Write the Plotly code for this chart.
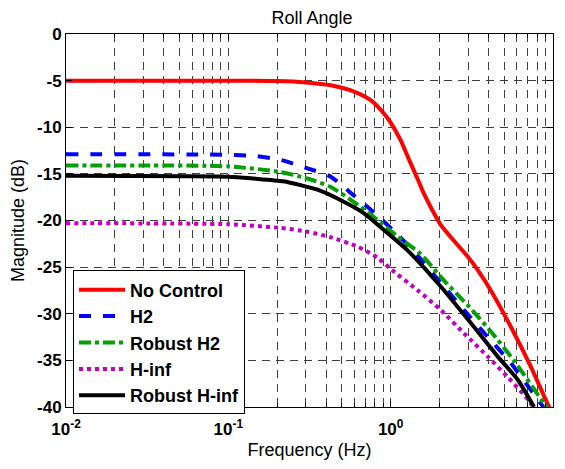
import plotly.graph_objects as go

# ---- data ----
f_nc = [0.01, 0.1, 0.2, 0.3, 0.427, 0.6, 0.753, 0.906, 1.0, 1.153, 1.3, 1.47, 1.6, 1.77, 2.04, 2.35, 2.99, 3.5, 4.14, 5.5, 7.31, 9.45, 10.0]
m_nc = [-5.0, -5.0, -5.05, -5.2, -5.5, -6.2, -7.1, -8.5, -9.5, -11.4, -13.5, -15.6, -17.1, -18.6, -20.5, -21.8, -23.9, -25.5, -27.5, -31.4, -35.7, -40.0, -40.8]

f_h2 = [0.01, 0.1, 0.15, 0.209, 0.307, 0.427, 0.591, 0.785, 1.10, 1.47, 2.04, 2.83, 3.97, 5.5, 8.07, 9.0]
m_h2 = [-12.9, -12.95, -13.1, -13.5, -14.4, -15.3, -17.3, -19.1, -21.5, -23.8, -26.7, -29.6, -32.5, -35.3, -39.2, -40.3]

f_rh2 = [0.01, 0.1, 0.209, 0.307, 0.427, 0.591, 0.785, 1.10, 1.53, 2.12, 2.99, 4.14, 5.74, 8.79, 10.0]
m_rh2 = [-14.1, -14.2, -14.8, -15.5, -16.4, -18.0, -19.6, -21.7, -23.6, -26.4, -29.1, -31.9, -35.0, -39.6, -41.0]

f_hinf = [0.01, 0.1, 0.209, 0.307, 0.427, 0.625, 0.832, 1.0, 1.47, 2.04, 2.83, 3.97, 5.27, 7.02, 7.6]
m_hinf = [-20.3, -20.4, -20.8, -21.2, -21.8, -22.8, -24.0, -25.2, -27.5, -29.6, -32.1, -34.6, -36.8, -39.2, -40.1]

f_rhinf = [0.01, 0.1, 0.143, 0.218, 0.354, 0.49, 0.682, 0.906, 1.27, 2.04, 3.12, 4.57, 6.08, 7.64]
m_rhinf = [-15.2, -15.3, -15.5, -15.8, -16.7, -17.8, -19.2, -21.0, -23.2, -27.1, -31.0, -34.6, -37.1, -40.0]

series_names = ["No Control", "H2", "Robust H2", "H-inf", "Robust H-inf"]
x_tickvals = [0.01, 0.1, 1, 10]
x_ticktext = ["10<sup>-2</sup>", "10<sup>-1</sup>", "10<sup>0</sup>", "10<sup>1</sup>"]
y_tickvals = [0, -5, -10, -15, -20, -25, -30, -35, -40]

styles = [
    dict(color="#FF0000", dash="solid"),
    dict(color="#0000FF", dash="dash"),
    dict(color="#00A000", dash="dashdot"),
    dict(color="#C000C0", dash="dot"),
    dict(color="#000000", dash="solid"),
]
data = [(f_nc, m_nc), (f_h2, m_h2), (f_rh2, m_rh2), (f_hinf, m_hinf), (f_rhinf, m_rhinf)]

fig = go.Figure()
for name, (fx, my), st in zip(series_names, data, styles):
    fig.add_trace(go.Scatter(
        x=fx, y=my, mode="lines", name="<b>%s</b>" % name,
        line=dict(color=st["color"], dash=st["dash"], width=4, shape="spline", smoothing=0.6),
    ))

minor_x = [m * 10 ** e for e in (-2, -1, 0) for m in range(2, 10)]
font_family = "Liberation Sans, Arial, sans-serif"
grid_dash = "8px,6px"

# page has an 8px body margin; figure is sized/offset to compensate
W, H = 557, 461
fig.update_layout(
    width=W, height=H,
    margin=dict(l=58, r=12, t=26, b=62, autoexpand=False),
    paper_bgcolor="white", plot_bgcolor="white",
    font=dict(family=font_family, color="black"),
    title=dict(text="Roll Angle", x=(312 - 8) / W, xanchor="center", y=1 - 10 / H, yanchor="middle",
               font=dict(size=18, family=font_family, color="black")),
    showlegend=True,
    legend=dict(
        x=0.0144, y=0.366, xanchor="left", yanchor="top",
        bgcolor="white", bordercolor="black", borderwidth=1,
        font=dict(size=18, family=font_family, color="black"),
        tracegroupgap=0, itemwidth=46,
    ),
)

fig.update_xaxes(
    type="log", range=[-2, 1], automargin=False,
    tickvals=x_tickvals, ticktext=x_ticktext,
    tickfont=dict(size=17, family=font_family, color="black", weight="bold"),
    ticks="inside", ticklen=6, tickcolor="black", ticklabelstandoff=7,
    showline=True, linecolor="black", linewidth=1, mirror="allticks",
    showgrid=True, gridcolor="#404040", gridwidth=1, griddash=grid_dash,
    minor=dict(tickvals=minor_x, ticks="inside", ticklen=4, tickcolor="black",
               showgrid=True, gridcolor="#404040", gridwidth=1, griddash=grid_dash),
    title=dict(text="Frequency (Hz)", font=dict(size=18, family=font_family, color="black"), standoff=4),
    zeroline=False,
)
fig.update_yaxes(
    range=[-40, 0], automargin=False,
    tickvals=y_tickvals, ticktext=[str(v) for v in y_tickvals],
    tickfont=dict(size=17, family=font_family, color="black", weight="bold"),
    ticks="inside", ticklen=6, tickcolor="black",
    showline=True, linecolor="black", linewidth=1, mirror="allticks",
    showgrid=True, gridcolor="#404040", gridwidth=1, griddash=grid_dash,
    title=dict(text="Magnitude (dB)", font=dict(size=18, family=font_family, color="black"), standoff=10),
    zeroline=False,
)

fig.write_html("out.html")
